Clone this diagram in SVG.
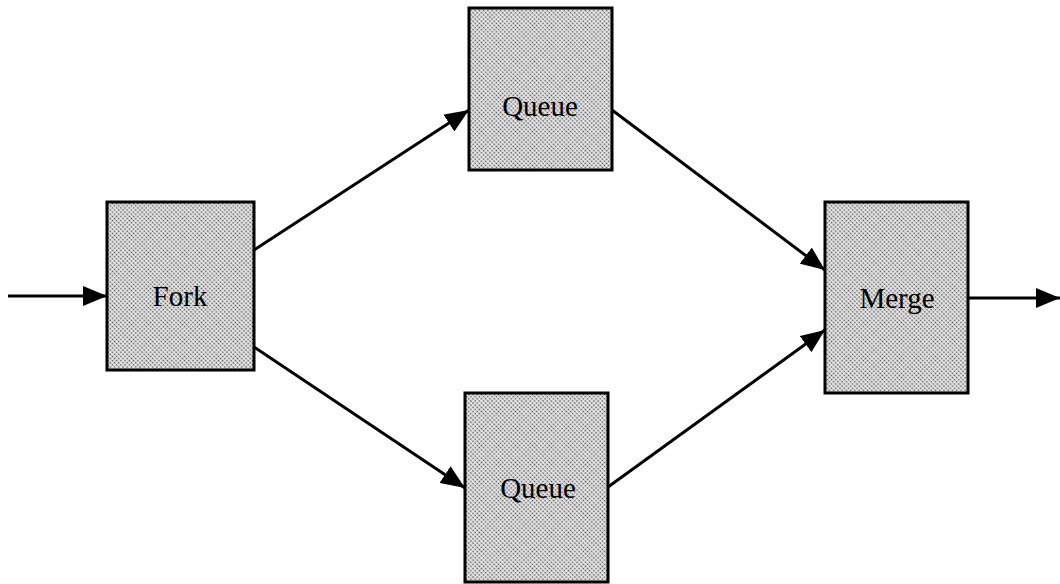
<svg xmlns="http://www.w3.org/2000/svg" width="1060" height="584" viewBox="0 0 1060 584">
  <style>
    .box { fill: url(#dots); stroke: #000; stroke-width: 3; }
    .lbl { font-family: "Liberation Serif", "Times New Roman", serif; font-size: 29px; fill: #000; text-anchor: middle; dominant-baseline: central; }
    .wire { stroke: #000; stroke-width: 3; fill: none; marker-end: url(#head); }
  </style>
  <defs>
    <!-- halftone grey: fine diagonal dot grid -->
    <pattern id="dots" width="3" height="3" patternUnits="userSpaceOnUse" patternTransform="rotate(45)">
      <rect width="3" height="3" fill="#e8e8e8"/>
      <circle cx="1.5" cy="1.5" r="0.85" fill="#4a4a4a"/>
    </pattern>
    <marker id="head" viewBox="0 0 24 20" refX="24" refY="10" markerWidth="24" markerHeight="20" markerUnits="userSpaceOnUse" orient="auto">
      <path d="M0,0 L24,10 L0,20 Z" fill="#000"/>
    </marker>
  </defs>

  <g id="connectors">
    <line class="wire" x1="8" y1="296" x2="107" y2="296"/>
    <line class="wire" x1="254" y1="250" x2="469" y2="110"/>
    <line class="wire" x1="254" y1="347" x2="465" y2="488"/>
    <line class="wire" x1="612" y1="110" x2="825" y2="270"/>
    <line class="wire" x1="608" y1="487" x2="825" y2="330"/>
    <line class="wire" x1="968" y1="298" x2="1060" y2="298"/>
  </g>

  <g id="fork">
    <rect class="box" x="107" y="202" width="147" height="168"/>
    <text class="lbl" x="180" y="296">Fork</text>
  </g>
  <g id="queue-top">
    <rect class="box" x="469" y="8" width="143" height="162"/>
    <text class="lbl" x="540" y="106">Queue</text>
  </g>
  <g id="queue-bottom">
    <rect class="box" x="465" y="393" width="143" height="189"/>
    <text class="lbl" x="538" y="488">Queue</text>
  </g>
  <g id="merge">
    <rect class="box" x="825" y="202" width="143" height="191"/>
    <text class="lbl" x="897" y="298">Merge</text>
  </g>
</svg>
